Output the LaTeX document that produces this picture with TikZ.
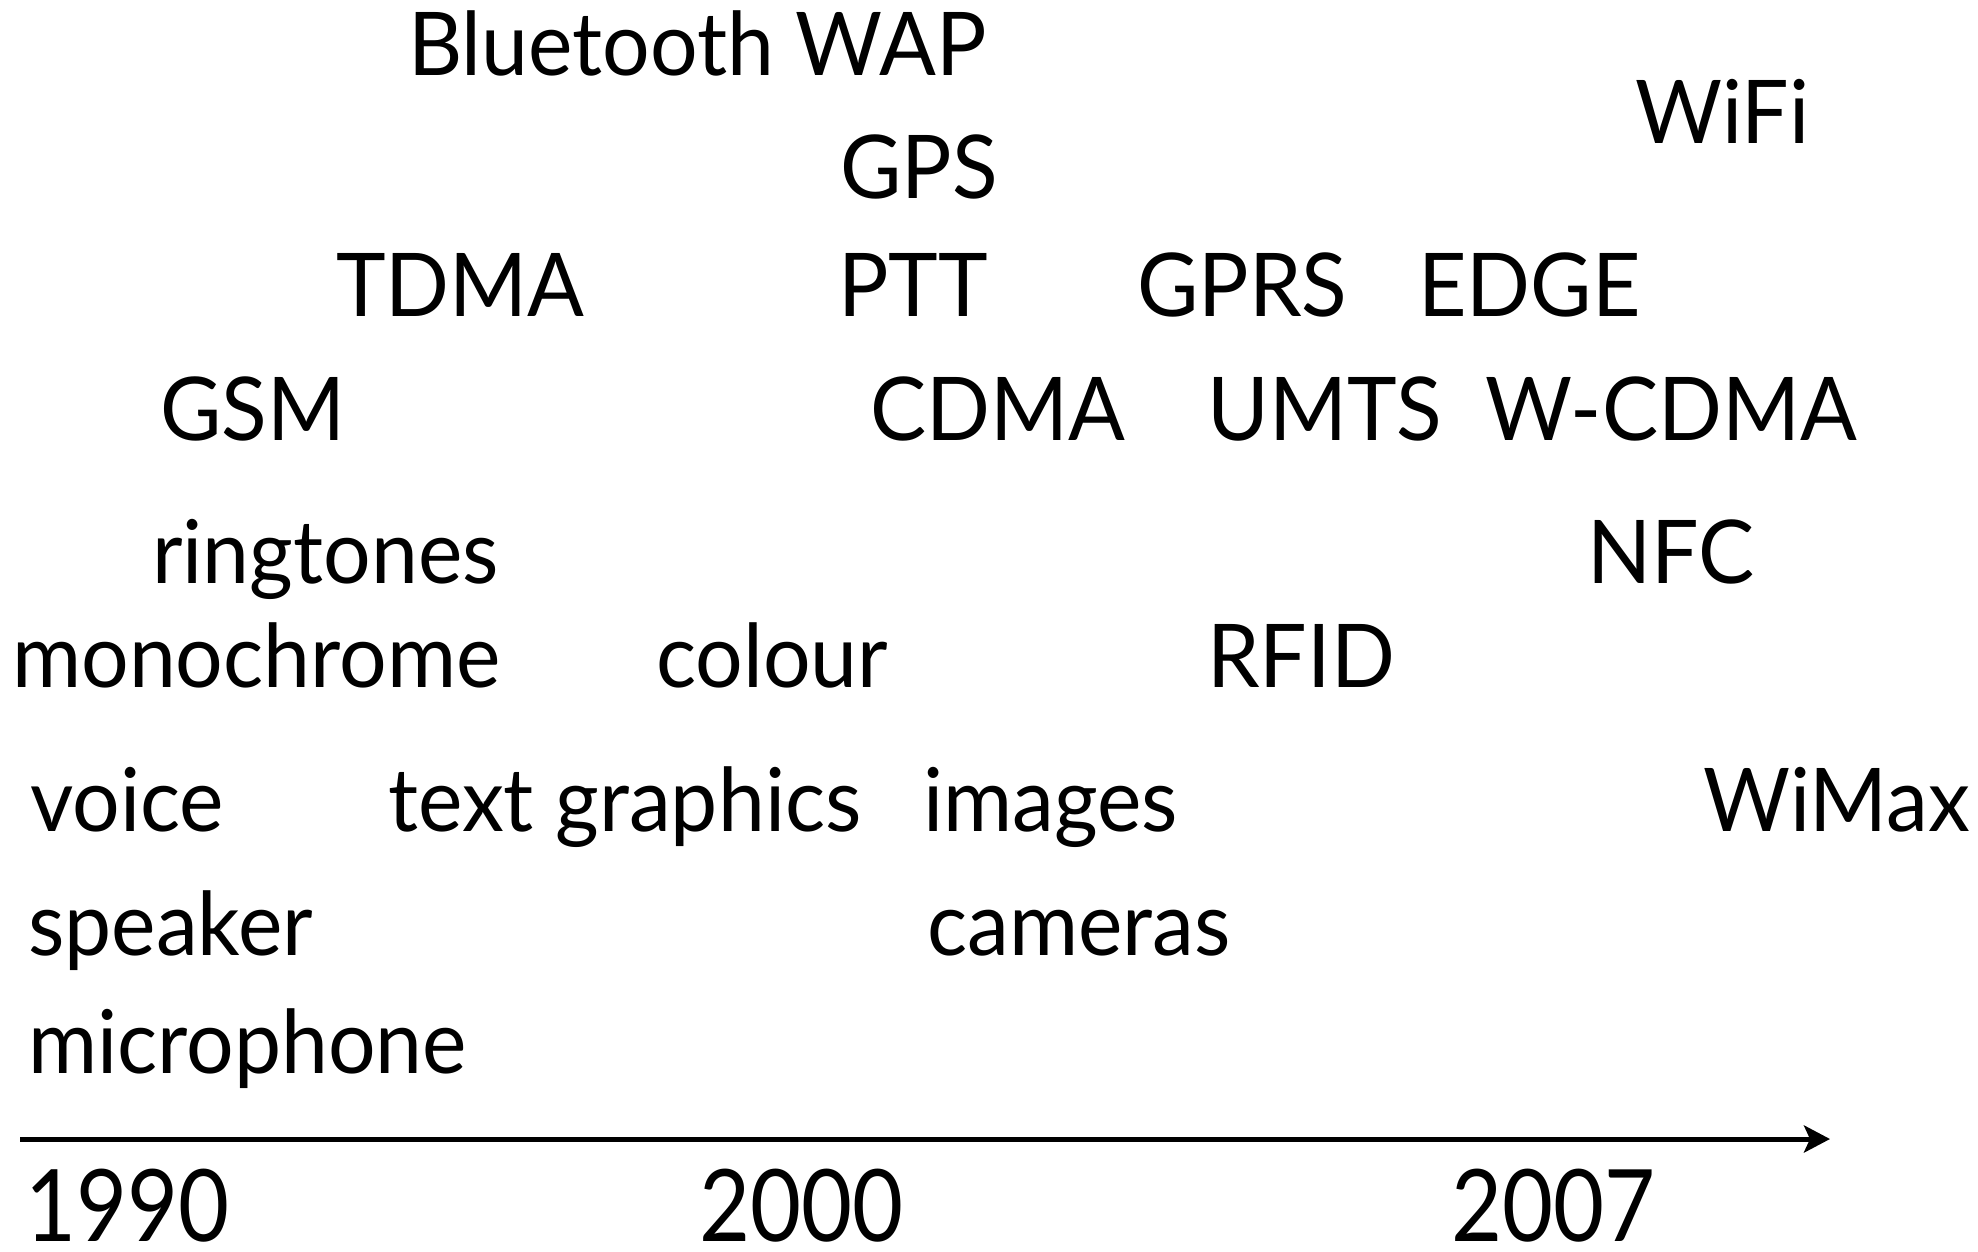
\documentclass[tikz,border=0pt]{standalone}
\usepackage{graphicx}
\usepackage{fontspec}
\setmainfont{Lato}
\usetikzlibrary{arrows.meta}
\newcommand{\nx}[1]{\scalebox{0.955}[1]{#1}}
\newcommand{\ny}[1]{\scalebox{0.88}[1]{#1}}
\begin{document}
\begin{tikzpicture}[x=1pt,y=-1pt,
  lbl/.style={anchor=base west,inner sep=0pt,font=\fontsize{88}{100}\selectfont},
  yr/.style={anchor=base west,inner sep=0pt,text depth=0pt,font=\fontsize{100}{110}\selectfont}]
\useasboundingbox (0,0) rectangle (1978,1251);
\node[lbl] (bt) at (408,75) {\nx{Bluetooth WAP}};
\node[lbl] (wifi) at (1635,143) {\nx{WiFi}};
\node[lbl] (gps) at (840,198) {\nx{GPS}};
\node[lbl] (tdma) at (336,316) {\nx{TDMA}};
\node[lbl] (ptt) at (838,316) {\nx{PTT}};
\node[lbl] (gprs) at (1137,316) {\nx{GPRS}};
\node[lbl] (edge) at (1418,316) {\nx{EDGE}};
\node[lbl] (gsm) at (160,440) {\nx{GSM}};
\node[lbl] (cdma) at (870,440) {\nx{CDMA}};
\node[lbl] (umts) at (1207,440) {\nx{UMTS}};
\node[lbl] (wcdma) at (1485,440) {\nx{W-CDMA}};
\node[lbl] (ring) at (152,583) {\nx{ringtones}};
\node[lbl] (nfc) at (1587,583) {\nx{NFC}};
\node[lbl] (mono) at (12,687) {\nx{monochrome}};
\node[lbl] (colour) at (656,687) {\nx{colour}};
\node[lbl] (rfid) at (1207,687) {\nx{RFID}};
\node[lbl] (voice) at (30,831) {\nx{voice}};
\node[lbl] (textg) at (388,831) {\nx{text graphics}};
\node[lbl] (images) at (923,831) {\nx{images}};
\node[lbl] (wimax) at (1703,831) {\nx{WiMax}};
\node[lbl] (speaker) at (28,955) {\nx{speaker}};
\node[lbl] (cameras) at (927,955) {\nx{cameras}};
\node[lbl] (micro) at (28,1073) {\nx{microphone}};
\coordinate (a0) at (20,1139);
\coordinate (a1) at (1830,1139);
\draw[line width=5pt,-{Stealth[length=26pt,width=27pt,inset=6pt]}] (a0) -- (a1);
\node[yr] (y1990) at (25,1241) {\ny{1990}};
\node[yr] (y2000) at (699,1241) {\ny{2000}};
\node[yr] (y2007) at (1451,1241) {\ny{2007}};
\end{tikzpicture}
\end{document}
